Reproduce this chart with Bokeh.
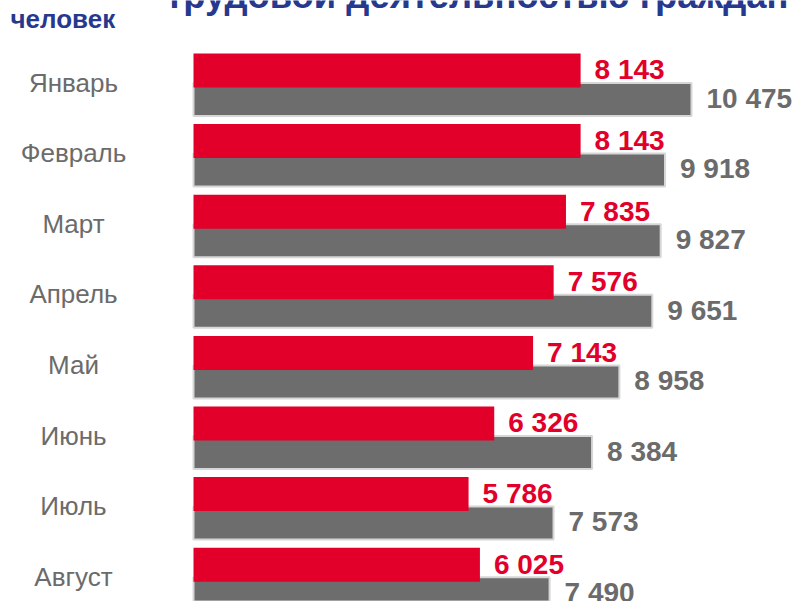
from bokeh.plotting import figure
from bokeh.models import Range1d, ColumnDataSource, Label
from bokeh.core.properties import value
from bokeh.embed import file_html
from bokeh.resources import INLINE

# ---- data ----
months = ["Январь", "Февраль", "Март", "Апрель", "Май", "Июнь", "Июль", "Август"]
red_values = [8143, 8143, 7835, 7576, 7143, 6326, 5786, 6025]
gray_values = [10475, 9918, 9827, 9651, 8958, 8384, 7573, 7490]
unit_label = "человек"
title_text = "трудовой деятельностью граждан"

# ---- layout constants ----
W, H = 799, 601
X0 = 193.0          # pixel where value 0 sits
KX = 0.04754        # pixels per unit
Y0 = 86.0           # pixel (from top) of first category centre
PY = 70.6           # pixels per category

RED = "#e2002b"
GRAY = "#6d6d6d"
TXT_GRAY = "#6b6b6b"
NAVY = "#27398e"
FONT = "Liberation Sans"

def fmt(v):
    return f"{v:,}".replace(",", " ")

idx = list(range(len(months)))
src = ColumnDataSource(dict(
    i=idx,
    month=months,
    red=red_values,
    gray=gray_values,
    red_y=[i - 16 / PY for i in idx],
    gray_y=[i + 13 / PY for i in idx],
    red_lbl=[fmt(v) for v in red_values],
    gray_lbl=[fmt(v) for v in gray_values],
    zero=[0] * len(idx),
))

x_start = -X0 / KX
x_end = (W - X0) / KX
p = figure(width=W, height=H, output_backend="svg", toolbar_location=None,
           x_range=Range1d(x_start, x_end),
           y_range=Range1d((H - Y0) / PY, -Y0 / PY),
           x_axis_type=None, y_axis_type=None, min_border=0,
           outline_line_color=None)
p.grid.visible = False
p.background_fill_color = "white"
p.border_fill_color = "white"

p.hbar(y="gray_y", left="zero", right="gray", height=33 / PY, source=src,
       fill_color=GRAY, line_color="#d6d6d6", line_width=2)
p.hbar(y="red_y", left="zero", right="red", height=34 / PY, source=src,
       fill_color=RED, line_color=None)

p.text(x="red", y="i", text="red_lbl", source=src, x_offset=14, y_offset=-16.7,
       text_font=value(FONT), text_font_style="bold", text_font_size="28px",
       text_color=RED, text_baseline="alphabetic", text_align="left")
p.text(x="gray", y="i", text="gray_lbl", source=src, x_offset=15, y_offset=11.8,
       text_font=value(FONT), text_font_style="bold", text_font_size="28px",
       text_color=TXT_GRAY, text_baseline="alphabetic", text_align="left")

p.text(x=x_start, y="i", text="month", source=src, x_offset=73, y_offset=-4,
       text_font=value(FONT), text_font_size="26px", text_color=TXT_GRAY,
       text_baseline="alphabetic", text_align="center")

p.add_layout(Label(x=10, y=H - 18, x_units="screen", y_units="screen",
                   text=unit_label, text_font=FONT, text_font_style="bold",
                   text_font_size="26px", text_color=NAVY,
                   text_baseline="alphabetic"))
p.add_layout(Label(x=165, y=H + 5, x_units="screen", y_units="screen",
                   text=title_text, text_font=FONT, text_font_style="bold",
                   text_font_size="36.4px", text_color=NAVY,
                   text_baseline="alphabetic"))

open("out.html", "w").write(file_html(p, INLINE))
